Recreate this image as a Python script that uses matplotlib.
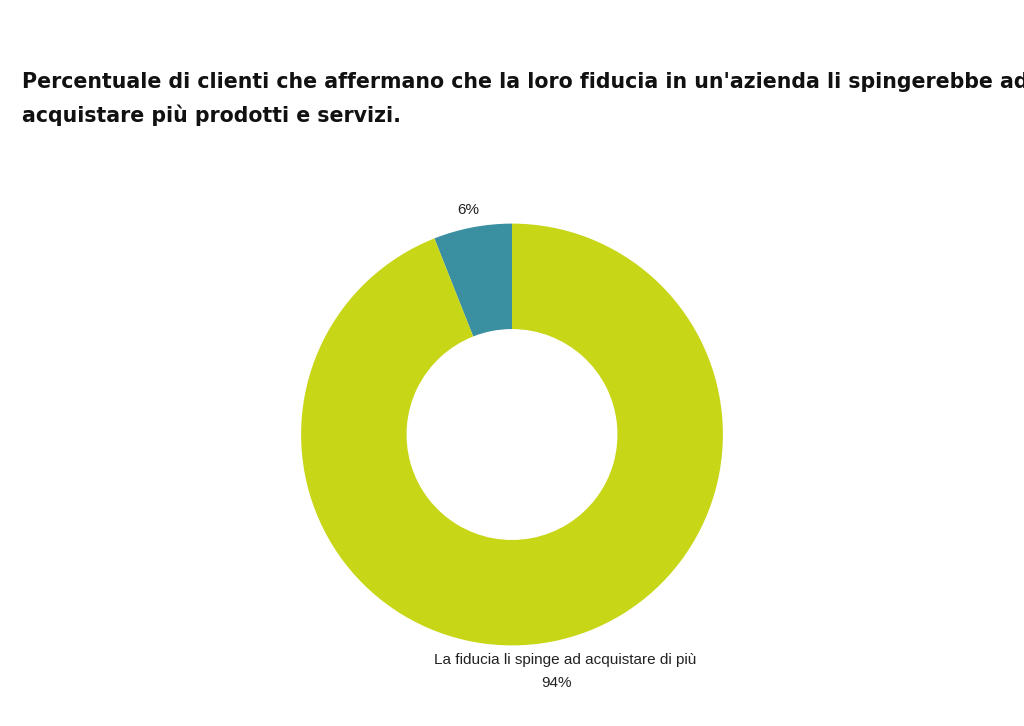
import matplotlib
matplotlib.use("Agg")
import matplotlib.pyplot as plt

categories = ["Altro", "La fiducia li spinge ad acquistare di più"]
values = [6, 94]
colors = ["#3a90a0", "#c8d618"]

fig = plt.figure(figsize=(10.24, 7.26), dpi=100)
ax = fig.add_axes([0.294, 0.111, 0.412, 0.581])
ax.pie(values, colors=colors, startangle=90, counterclock=True,
       wedgeprops=dict(width=0.5, edgecolor="none"))
ax.set_xlim(-1, 1)
ax.set_ylim(-1, 1)
ax.set_aspect("equal")

fig.text(0.457, 1 - 210/726, f"{values[0]}%", ha="center", va="center",
         fontsize=11, family="Liberation Sans", color="#222222")
fig.text(0.552, 1 - 660/726, categories[1], ha="center", va="center",
         fontsize=11, family="Liberation Sans", color="#222222")
fig.text(0.543, 1 - 683/726, f"{values[1]}%", ha="center", va="center",
         fontsize=11, family="Liberation Sans", color="#222222")

fig.text(0.021, 1 - 82/726,
         "Percentuale di clienti che affermano che la loro fiducia in un'azienda li spingerebbe ad",
         ha="left", va="center", fontsize=14.8, fontweight="bold", family="DejaVu Sans", color="#111111")
fig.text(0.021, 1 - 115/726, "acquistare più prodotti e servizi.",
         ha="left", va="center", fontsize=14.8, fontweight="bold", family="DejaVu Sans", color="#111111")

fig.savefig("out.png", dpi=100, facecolor="white")
